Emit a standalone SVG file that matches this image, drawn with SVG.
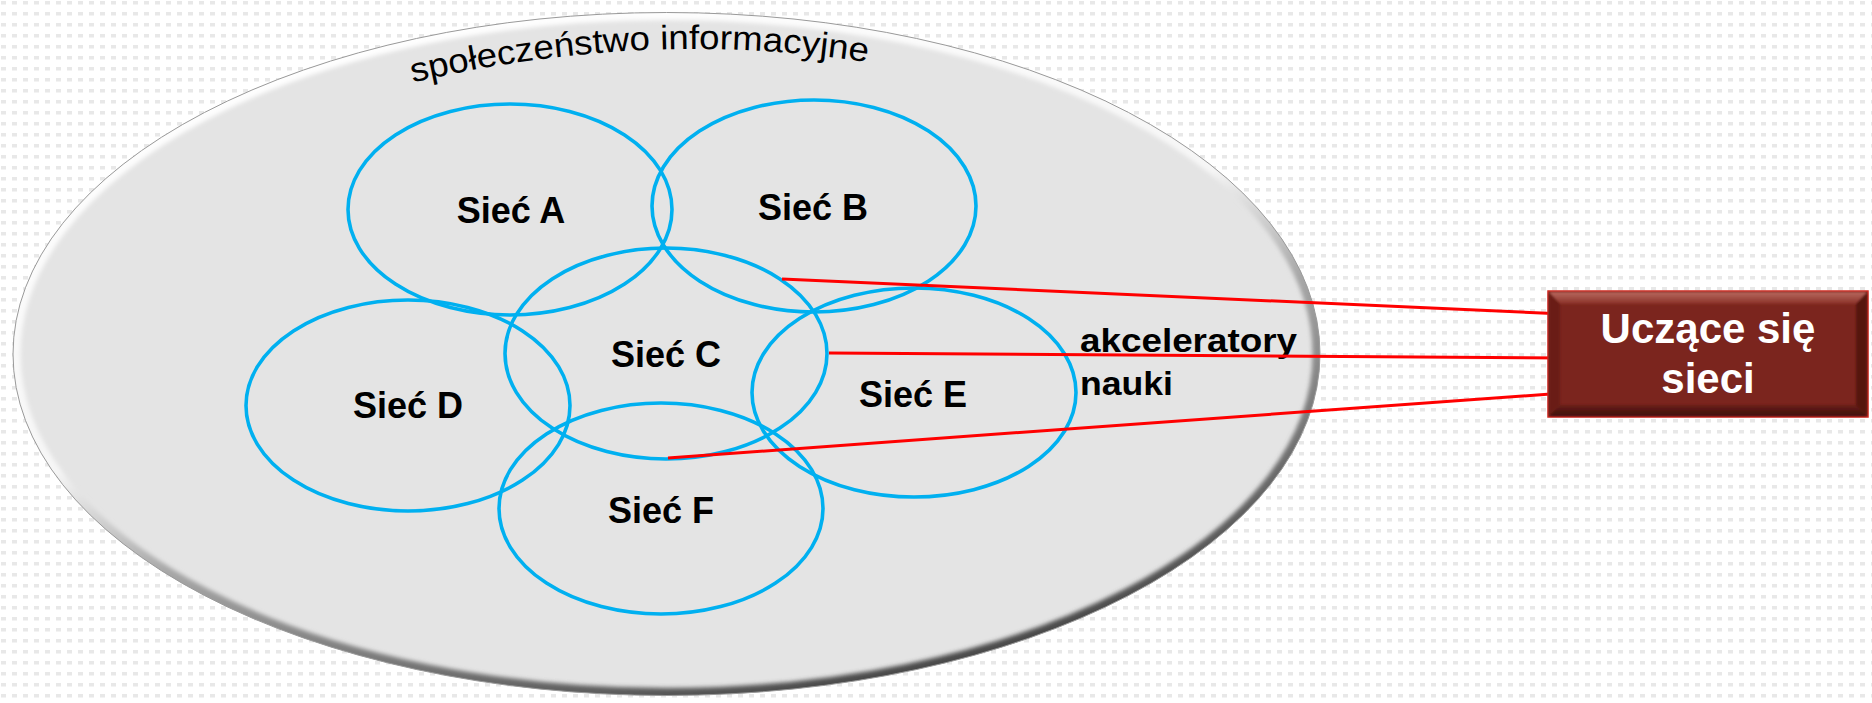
<svg xmlns="http://www.w3.org/2000/svg" width="1872" height="703" viewBox="0 0 1872 703">
  <defs>
    <pattern id="dots" x="1" y="1" width="11" height="11" patternUnits="userSpaceOnUse">
      <rect x="0" y="0" width="5" height="3.5" fill="#e8e8e8"/>
    </pattern>
    <linearGradient id="rimGrad" x1="0.25" y1="0" x2="0.75" y2="1">
      <stop offset="0" stop-color="#ffffff"/>
      <stop offset="0.45" stop-color="#f6f6f6"/>
      <stop offset="0.6" stop-color="#a8a8a8"/>
      <stop offset="1" stop-color="#3c3c3c"/>
    </linearGradient>
    <linearGradient id="topBevel" x1="0" y1="0" x2="0" y2="1">
      <stop offset="0" stop-color="#b8695f"/>
      <stop offset="1" stop-color="#8a3128"/>
    </linearGradient>
    <linearGradient id="botBevel" x1="0" y1="0" x2="0" y2="1">
      <stop offset="0" stop-color="#6a1d17"/>
      <stop offset="1" stop-color="#3e0f0b"/>
    </linearGradient>
    <clipPath id="ellClip">
      <ellipse cx="666.5" cy="354" rx="653.5" ry="341.5"/>
    </clipPath>
    <filter id="soft" x="-5%" y="-5%" width="110%" height="110%">
      <feGaussianBlur stdDeviation="2"/>
    </filter>
    <filter id="softBox" x="-5%" y="-10%" width="110%" height="120%">
      <feGaussianBlur stdDeviation="1"/>
    </filter>
    <path id="arcPath" d="M 398,86 Q 652,24 890,66"/>
    <style>
      .net { fill: none; stroke: #00b0f0; stroke-width: 3.6; }
      .lbl { font-family: "Liberation Sans", Arial, sans-serif; font-weight: bold; font-size: 36px; fill: #000; text-anchor: middle; }
      .acc { font-family: "Liberation Sans", Arial, sans-serif; font-weight: bold; font-size: 34px; fill: #000; }
      .box { font-family: "Liberation Sans", Arial, sans-serif; font-weight: bold; font-size: 42px; fill: #ffffff; text-anchor: middle; }
      .arc { font-family: "Liberation Sans", Arial, sans-serif; font-size: 34px; fill: #000; }
      .link { stroke: #ff0000; stroke-width: 3; fill: none; }
    </style>
  </defs>

  <!-- background -->
  <rect x="0" y="0" width="1872" height="703" fill="#ffffff"/>
  <rect x="0" y="0" width="1872" height="703" fill="url(#dots)"/>

  <!-- outer ellipse: społeczeństwo informacyjne -->
  <g id="spoleczenstwo">
    <ellipse cx="666.5" cy="354" rx="653.5" ry="341.5" fill="#e4e4e4"/>
    <g clip-path="url(#ellClip)">
      <ellipse cx="666.5" cy="354" rx="653.5" ry="341.5" fill="none" stroke="url(#rimGrad)" stroke-width="15" filter="url(#soft)"/>
    </g>
    <ellipse cx="666.5" cy="354" rx="653.5" ry="341.5" fill="none" stroke="#9a9a9a" stroke-width="1"/>
    <text class="arc"><textPath href="#arcPath" startOffset="15" textLength="458" lengthAdjust="spacingAndGlyphs">społeczeństwo informacyjne</textPath></text>
  </g>

  <g id="siec-a">
    <ellipse class="net" cx="510" cy="209.5" rx="162" ry="105.5"/>
    <text class="lbl" x="511" y="223">Sieć A</text>
  </g>
  <g id="siec-b">
    <ellipse class="net" cx="814" cy="206" rx="162" ry="106"/>
    <text class="lbl" x="813" y="220">Sieć B</text>
  </g>
  <g id="siec-c">
    <ellipse class="net" cx="666" cy="353.5" rx="161" ry="105.5"/>
    <text class="lbl" x="666" y="367">Sieć C</text>
  </g>
  <g id="siec-d">
    <ellipse class="net" cx="408" cy="405.5" rx="162" ry="105.5"/>
    <text class="lbl" x="408" y="418">Sieć D</text>
  </g>
  <g id="siec-e">
    <ellipse class="net" cx="914" cy="392.5" rx="162" ry="104.5"/>
    <text class="lbl" x="913" y="407">Sieć E</text>
  </g>
  <g id="siec-f">
    <ellipse class="net" cx="661" cy="508.5" rx="162" ry="105.5"/>
    <text class="lbl" x="661" y="523">Sieć F</text>
  </g>

  <g id="akceleratory">
    <text class="acc" x="1080" y="352" textLength="217" lengthAdjust="spacingAndGlyphs">akceleratory</text>
    <text class="acc" x="1080" y="395" textLength="93" lengthAdjust="spacingAndGlyphs">nauki</text>
  </g>

  <!-- connectors -->
  <g id="connectors">
    <line class="link" x1="782" y1="279" x2="1564" y2="314"/>
    <line class="link" x1="829" y1="353" x2="1564" y2="358"/>
    <line class="link" x1="668" y1="458" x2="1564" y2="393"/>
  </g>

  <g id="uczace-sie-sieci">
    <rect x="1548" y="291" width="320" height="126" fill="#7b251e" stroke="#d42a22" stroke-width="1.5"/>
    <g filter="url(#softBox)">
      <polygon points="1549,292 1867,292 1856,304 1560,304" fill="url(#topBevel)"/>
      <polygon points="1549,416 1867,416 1856,405 1560,405" fill="url(#botBevel)"/>
      <polygon points="1549,292 1560,304 1560,405 1549,416" fill="#6b1f19"/>
      <polygon points="1867,292 1856,304 1856,405 1867,416" fill="#561611"/>
    </g>
    <text class="box" x="1708" y="343">Uczące się</text>
    <text class="box" x="1708" y="393">sieci</text>
  </g>
</svg>
